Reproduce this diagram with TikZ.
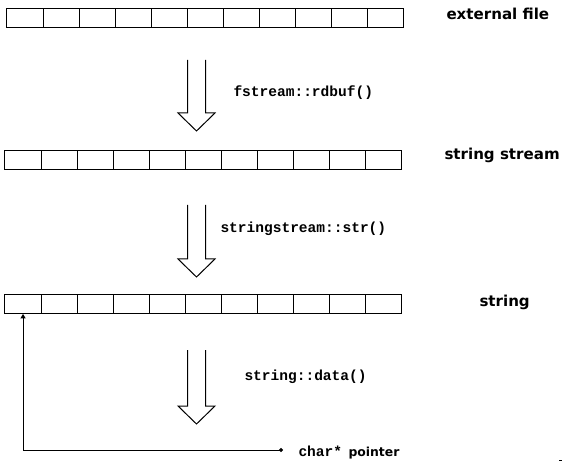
\documentclass[tikz,border=0pt]{standalone}
\usepackage{fontspec}
\setmainfont{DejaVu Sans}
\newfontfamily\codefont{Liberation Mono}
\usetikzlibrary{calc}
\usetikzlibrary{arrows.meta}

\tikzset{
  cell/.style={draw, inner sep=0pt, outer sep=0pt, minimum width=27.07pt, minimum height=14.5pt},
  rowlabel/.style={anchor=base west, inner sep=0pt, font=\fontsize{11.3}{13}\selectfont\bfseries},
  call/.style={anchor=base west, inner sep=0pt, font=\fontsize{10.9}{13}\selectfont\codefont\bfseries},
}

\begin{document}
\begin{tikzpicture} [x=.75pt, y=-.75pt, line width=.75pt]
\useasboundingbox (0,0) rectangle (564,463);

% the three rows of characters
\foreach \row/\x/\y in {f/7/17.9, ss/5/159.9, s/5/304.2}
\foreach \i in {1,...,11}
\node[cell] (\row\i) at ({\x+\i*36.09-18.05},\y) {};

\node[rowlabel] (file) at (446,19.5) {external file};
\node[rowlabel] (sstream) at (444,159.5) {string stream};
\node[rowlabel] (str) at (479,306.7) {string};

% hollow arrows between the rows
\foreach \top/\len in {60/53, 205/54, 350/56}
\draw (187.5,\top) --++(0,\len) --++(-9.5,0) --++(18.5,18) --++(18.5,-18) --++(-9.5,0) --++(0,-\len);

\node[call] (rdbuf) at (233,97) {fstream::rdbuf()};
\node[call] (strcall) at (220,232.5) {stringstream::str()};
\node[call] (datacall) at (244,380) {string::data()};

% pointer to the first character
\coordinate (ptrend) at (283,450);
\node[anchor=base west, inner sep=0pt] (ptr) at (298,456) {{\fontsize{10.9}{13}\selectfont\codefont\bfseries char*}\hspace{4.8pt}{\fontsize{9.3}{11}\selectfont\bfseries pointer}};
\draw[{Circle[length=3pt]}-{Triangle[width=3.75pt,length=3.4pt]}] (ptrend) -| (s1.south);

\draw (559,460) -- (562,460);

\end{tikzpicture}
\end{document}
